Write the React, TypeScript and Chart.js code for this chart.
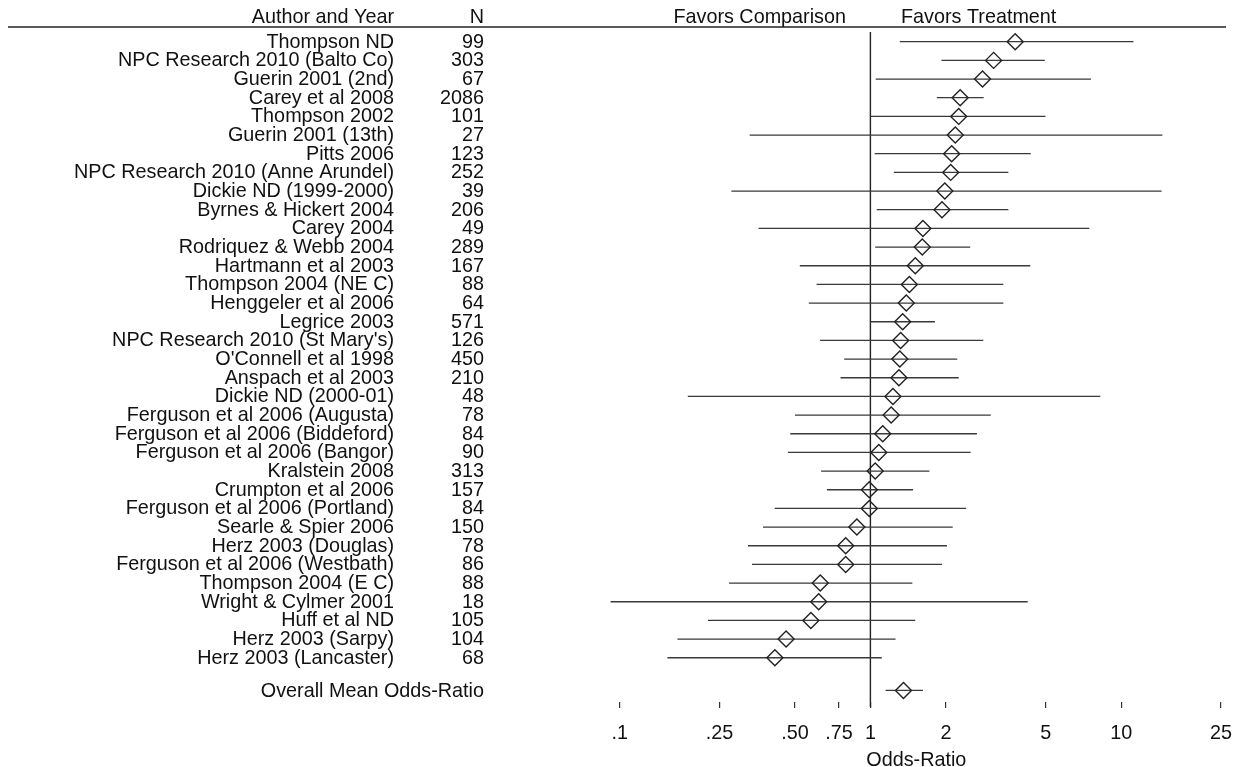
import React, { useEffect, useRef } from "react";
import { Chart, registerables } from "chart.js";

Chart.register(...registerables);

const authors = [
  "Thompson ND",
  "NPC Research 2010 (Balto Co)",
  "Guerin 2001 (2nd)",
  "Carey et al 2008",
  "Thompson 2002",
  "Guerin 2001 (13th)",
  "Pitts 2006",
  "NPC Research 2010 (Anne Arundel)",
  "Dickie ND (1999-2000)",
  "Byrnes & Hickert 2004",
  "Carey 2004",
  "Rodriquez & Webb 2004",
  "Hartmann et al 2003",
  "Thompson 2004 (NE C)",
  "Henggeler et al 2006",
  "Legrice 2003",
  "NPC Research 2010 (St Mary's)",
  "O'Connell et al 1998",
  "Anspach et al 2003",
  "Dickie ND (2000-01)",
  "Ferguson et al 2006 (Augusta)",
  "Ferguson et al 2006 (Biddeford)",
  "Ferguson et al 2006 (Bangor)",
  "Kralstein 2008",
  "Crumpton et al 2006",
  "Ferguson et al 2006 (Portland)",
  "Searle & Spier 2006",
  "Herz 2003 (Douglas)",
  "Ferguson et al 2006 (Westbath)",
  "Thompson 2004 (E C)",
  "Wright & Cylmer 2001",
  "Huff et al ND",
  "Herz 2003 (Sarpy)",
  "Herz 2003 (Lancaster)",
];

const sampleSizes = [
  99, 303, 67, 2086, 101, 27, 123, 252, 39, 206, 49, 289, 167, 88, 64, 571, 126,
  450, 210, 48, 78, 84, 90, 313, 157, 84, 150, 78, 86, 88, 18, 105, 104, 68,
];

const oddsRatios = [
  3.78, 3.1, 2.8, 2.28, 2.25, 2.18, 2.11, 2.09, 1.98, 1.93, 1.62, 1.61, 1.51, 1.43,
  1.39, 1.345, 1.32, 1.31, 1.3, 1.23, 1.21, 1.12, 1.08, 1.045, 0.99, 0.99, 0.883,
  0.797, 0.797, 0.631, 0.622, 0.579, 0.461, 0.416,
];

const ciLower = [
  1.31, 1.92, 1.05, 1.84, 1.0, 0.33, 1.04, 1.24, 0.279, 1.06, 0.358, 1.045, 0.523,
  0.61, 0.568, 1.0, 0.63, 0.786, 0.76, 0.187, 0.5, 0.479, 0.469, 0.636, 0.671,
  0.415, 0.373, 0.325, 0.337, 0.273, 0.092, 0.225, 0.17, 0.155,
];

const ciUpper = [
  11.2, 4.96, 7.58, 2.83, 4.99, 14.6, 4.36, 3.55, 14.5, 3.55, 7.47, 2.5, 4.34, 3.39,
  3.39, 1.81, 2.82, 2.22, 2.25, 8.26, 3.02, 2.66, 2.51, 1.72, 1.48, 2.41, 2.13,
  2.02, 1.93, 1.47, 4.24, 1.51, 1.26, 1.11,
];

const overallLabel = "Overall Mean Odds-Ratio";
const overallOdds = 1.355;
const overallLower = 1.15;
const overallUpper = 1.62;

const tickValues = [0.1, 0.25, 0.5, 0.75, 1, 2, 5, 10, 25];
const tickLabels = [".1", ".25", ".50", ".75", "1", "2", "5", "10", "25"];

const headerAuthor = "Author and Year";
const headerN = "N";
const headerLeft = "Favors Comparison";
const headerRight = "Favors Treatment";
const axisTitle = "Odds-Ratio";

const FONT_FAMILY = "'Liberation Sans', Arial, Helvetica, sans-serif";
const OVERALL_ROW = 35.75;

export default function App() {
  const canvasRef = useRef<HTMLCanvasElement | null>(null);

  useEffect(() => {
    document.body.style.margin = "0";
    const canvas = canvasRef.current;
    if (!canvas) return;

    const ciSegments: any[] = [];
    authors.forEach((_, i) => {
      ciSegments.push({ x: ciLower[i], y: i + 1 });
      ciSegments.push({ x: ciUpper[i], y: i + 1 });
      ciSegments.push({ x: NaN, y: NaN });
    });
    ciSegments.push({ x: overallLower, y: OVERALL_ROW });
    ciSegments.push({ x: overallUpper, y: OVERALL_ROW });

    const points = oddsRatios.map((v, i) => ({ x: v, y: i + 1 }));
    points.push({ x: overallOdds, y: OVERALL_ROW });

    const textPlugin = {
      id: "forestText",
      afterDraw(chart: any) {
        const ctx = chart.ctx as CanvasRenderingContext2D;
        const yScale = chart.scales.y;
        ctx.save();
        ctx.fillStyle = "#111";
        ctx.font = `19.8px ${FONT_FAMILY}`;
        ctx.textBaseline = "middle";
        ctx.textAlign = "right";
        authors.forEach((a, i) => {
          const y = yScale.getPixelForValue(i + 1);
          ctx.fillText(a, 394, y + 0.5);
          ctx.fillText(String(sampleSizes[i]), 484, y + 0.5);
        });
        ctx.fillText(overallLabel, 484, yScale.getPixelForValue(OVERALL_ROW) + 1);
        // header
        const hy = 18;
        ctx.fillText(headerAuthor, 394, hy);
        ctx.fillText(headerN, 484, hy);
        ctx.fillText(headerLeft, 846, hy);
        ctx.textAlign = "left";
        ctx.fillText(headerRight, 901, hy);
        ctx.strokeStyle = "#222";
        ctx.lineWidth = 1.4;
        ctx.beginPath();
        ctx.moveTo(8, 27);
        ctx.lineTo(1226, 27);
        ctx.stroke();
        ctx.restore();
      },
    };

    const chart = new Chart(canvas, {
      type: "scatter",
      data: {
        datasets: [
          {
            type: "line",
            label: "reference",
            data: [
              { x: 1, y: 0.48 },
              { x: 1, y: 36.64 },
            ],
            borderColor: "#222",
            borderWidth: 1.4,
            pointRadius: 0,
            clip: false as any,
            order: 3,
          } as any,
          {
            type: "line",
            label: "CI",
            data: ciSegments,
            borderColor: "#3a3a3a",
            borderWidth: 1.3,
            pointRadius: 0,
            spanGaps: false,
            order: 2,
          } as any,
          {
            type: "scatter",
            label: "Odds-Ratio",
            data: points,
            pointStyle: "rectRot",
            pointRadius: 8,
            pointBorderColor: "#222",
            pointBorderWidth: 1.4,
            pointBackgroundColor: "rgba(0,0,0,0)",
            order: 1,
          } as any,
        ],
      },
      options: {
        responsive: false,
        animation: false,
        events: [],
        layout: { padding: { left: 600, right: 8, top: 32, bottom: 0 } },
        plugins: {
          legend: { display: false },
          tooltip: { enabled: false },
        },
        scales: {
          x: {
            type: "logarithmic",
            bounds: "data",
            min: 0.08348,
            max: 27.83,
            border: { display: false },
            grid: {
              drawOnChartArea: false,
              drawTicks: true,
              tickLength: 6,
              color: "#333",
              lineWidth: 1.2,
            },
            afterBuildTicks: (scale: any) => {
              scale.ticks = tickValues.map((v) => ({ value: v }));
            },
            afterFit: (scale: any) => {
              scale.height = 65;
              scale.paddingLeft = 0;
              scale.paddingRight = 0;
            },
            ticks: {
              autoSkip: false,
              maxRotation: 0,
              minRotation: 0,
              padding: 14,
              color: "#111",
              font: { family: FONT_FAMILY, size: 19.8 },
              callback: (value: any) => {
                const idx = tickValues.indexOf(Number(value));
                return idx >= 0 ? tickLabels[idx] : "";
              },
            },
            title: {
              display: true,
              text: axisTitle,
              color: "#111",
              font: { family: FONT_FAMILY, size: 19.8, lineHeight: 0.7 },
              padding: { top: 0, bottom: 0 },
            },
          },
          y: {
            type: "linear",
            display: false,
            bounds: "data",
            reverse: true,
            min: 0.48,
            max: 36.37,
          },
        },
      } as any,
      plugins: [textPlugin],
    });

    return () => {
      chart.destroy();
    };
  }, []);

  return (
    <canvas
      ref={canvasRef}
      width={1242}
      height={767}
      style={{ display: "block", width: 1242, height: 767 }}
    />
  );
}
